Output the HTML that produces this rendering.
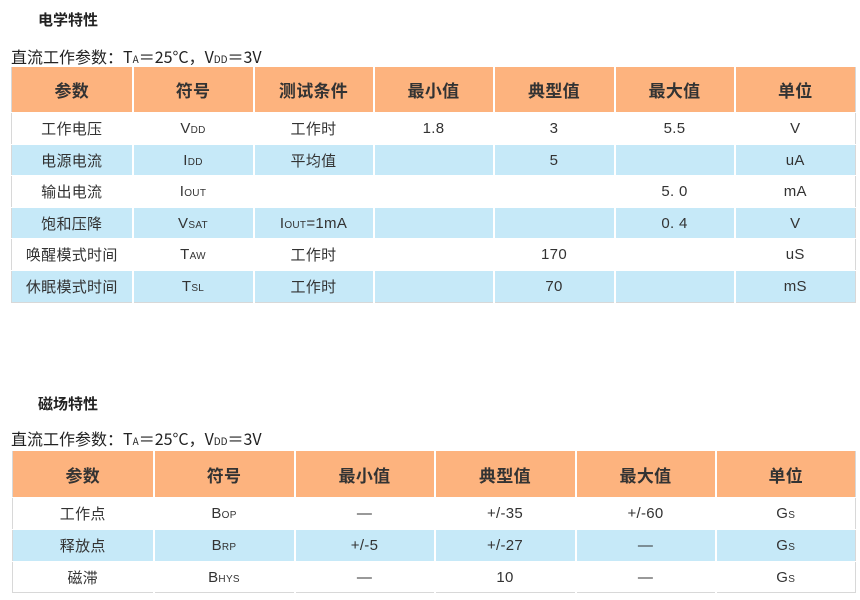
<!DOCTYPE html>
<html><head><meta charset="utf-8"><style>
body{margin:0;width:860px;height:600px;background:#fff;font-family:"Liberation Sans","Noto Sans CJK SC",sans-serif;color:#333;position:relative;overflow:hidden}
.t{position:absolute;font-size:16px;color:#222;font-family:"Noto Sans CJK SC",sans-serif;line-height:20px}
.h{font-weight:bold;font-size:15px}
table{position:absolute;border-collapse:collapse;table-layout:fixed;border:1px solid #d8d8d8}
td{border-left:2px solid #fff;border-top:1px solid #fff;text-align:center;padding:0;font-size:15px;color:#333;white-space:nowrap;letter-spacing:0.3px}
td:first-child{border-left:none}
tr.hd td{background:#FDB37E;font-weight:bold;font-size:17px;color:#333}
tr.b td{background:#C6E9F8}
sub{font-size:10px;vertical-align:baseline}
</style></head><body>
<div class="t h" style="left:38px;top:10px">电学特性</div>
<div class="t" style="left:11px;top:46px">直流工作参数：T<sub>A</sub>＝25°C，V<sub>DD</sub>＝3V</div>
<table style="left:11px;top:66px;width:844px">
<colgroup><col style="width:121px"><col style="width:121px"><col style="width:120px"><col style="width:120px"><col style="width:121px"><col style="width:120px"><col style="width:121px"></colgroup>
<tr class="hd" style="height:46px"><td>参数</td><td>符号</td><td>测试条件</td><td>最小值</td><td>典型值</td><td>最大值</td><td>单位</td></tr>
<tr style="height:32px"><td>工作电压</td><td>V<sub>DD</sub></td><td>工作时</td><td>1.8</td><td>3</td><td>5.5</td><td>V</td></tr>
<tr class="b" style="height:31px"><td>电源电流</td><td>I<sub>DD</sub></td><td>平均值</td><td></td><td>5</td><td></td><td>uA</td></tr>
<tr style="height:32px"><td>输出电流</td><td>I<sub>OUT</sub></td><td></td><td></td><td></td><td>5. 0</td><td>mA</td></tr>
<tr class="b" style="height:31px"><td>饱和压降</td><td>V<sub>SAT</sub></td><td>I<sub>OUT</sub>=1mA</td><td></td><td></td><td>0. 4</td><td>V</td></tr>
<tr style="height:32px"><td>唤醒模式时间</td><td>T<sub>AW</sub></td><td>工作时</td><td></td><td>170</td><td></td><td>uS</td></tr>
<tr class="b" style="height:32px"><td>休眠模式时间</td><td>T<sub>SL</sub></td><td>工作时</td><td></td><td>70</td><td></td><td>mS</td></tr>
</table>
<div class="t h" style="left:38px;top:394px">磁场特性</div>
<div class="t" style="left:11px;top:428px">直流工作参数：T<sub>A</sub>＝25°C，V<sub>DD</sub>＝3V</div>
<table style="left:12px;top:450px;width:843px">
<colgroup><col style="width:141px"><col style="width:141px"><col style="width:140px"><col style="width:141px"><col style="width:140px"><col style="width:140px"></colgroup>
<tr class="hd" style="height:47px"><td>参数</td><td>符号</td><td>最小值</td><td>典型值</td><td>最大值</td><td>单位</td></tr>
<tr style="height:32px"><td>工作点</td><td>B<sub>OP</sub></td><td>—</td><td>+/-35</td><td>+/-60</td><td>G<sub>S</sub></td></tr>
<tr class="b" style="height:32px"><td>释放点</td><td>B<sub>RP</sub></td><td>+/-5</td><td>+/-27</td><td>—</td><td>G<sub>S</sub></td></tr>
<tr style="height:31px"><td>磁滞</td><td>B<sub>HYS</sub></td><td>—</td><td>10</td><td>—</td><td>G<sub>S</sub></td></tr>
</table>
</body></html>
